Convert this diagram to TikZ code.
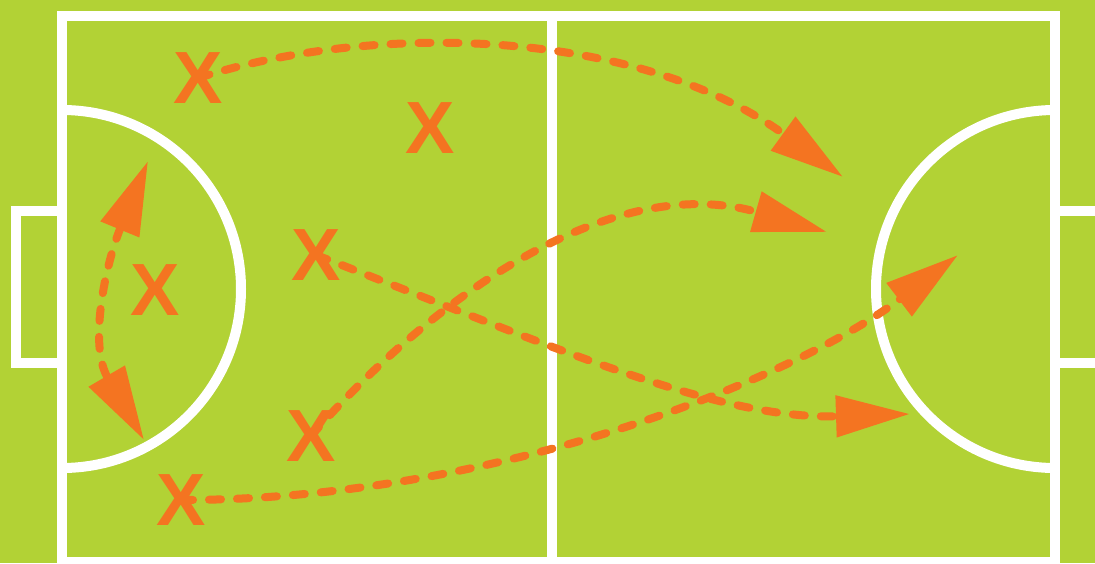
\documentclass[tikz,border=0pt]{standalone}
\usepackage{fontspec}
\setmainfont{Liberation Sans}
\usepackage{xcolor}
\usepackage{tikz}
\usetikzlibrary{arrows.meta}
\definecolor{pitchgreen}{HTML}{B2D235}
\definecolor{runorange}{HTML}{F47421}

\begin{document}
\begin{tikzpicture}[x=1pt, y=-1pt,
  >={Triangle[length=74pt, width=40pt]},
  pitchline/.style={white, line width=10pt},
  player/.style={runorange, inner sep=0pt, font=\fontsize{74}{74}\selectfont\bfseries},
  run/.style={runorange, line width=8pt, line cap=round, dash pattern=on 12pt off 16pt}]
  \useasboundingbox (0,0) rectangle (1095,563);
  \fill[pitchgreen] (0,0) rectangle (1095,563);
  \clip (0,0) rectangle (1095,563);

  % pitch markings
  \draw[pitchline] (62,16) rectangle (1055,562);
  \draw[pitchline] (552,16) -- (552,562);
  \draw[pitchline] (62,110) arc[start angle=-90, end angle=90, radius=179];
  \draw[pitchline] (1055,110) arc[start angle=270, end angle=90, radius=179];
  \draw[pitchline] (62,211) -- (16,211) -- (16,363) -- (62,363);
  \draw[pitchline] (1055,211) -- (1100,211);
  \draw[pitchline] (1055,363) -- (1100,363);

  % players
  \node[player] (x1) at (198,78) {X};
  \node[player] (x2) at (430,128) {X};
  \node[player] (x3) at (155,290) {X};
  \node[player] (x4) at (316,255) {X};
  \node[player] (x5) at (311,436) {X};
  \node[player] (x6) at (181,500) {X};

  % where the runs end
  \coordinate (t1) at (843,177);
  \coordinate (t2) at (910,414);
  \coordinate (t3) at (827,232);
  \coordinate (t4) at (958,255);
  \coordinate (t5) at (148,161);
  \coordinate (t6) at (144,440);

  % runs
  \draw[run, ->] (x1.center) .. controls (380,20) and (640,30) .. (t1);
  \draw[run, ->] (x4.center) .. controls (560,350) and (720,420) .. (t2);
  \draw[run, ->] (x5.center) .. controls (430,300) and (610,170) .. (t3);
  \draw[run, ->] (x6.center) .. controls (500,500) and (800,375) .. (t4);
  \draw[run, <->] (t5) .. controls (106,263) and (88,344) .. (t6);
\end{tikzpicture}
\end{document}
